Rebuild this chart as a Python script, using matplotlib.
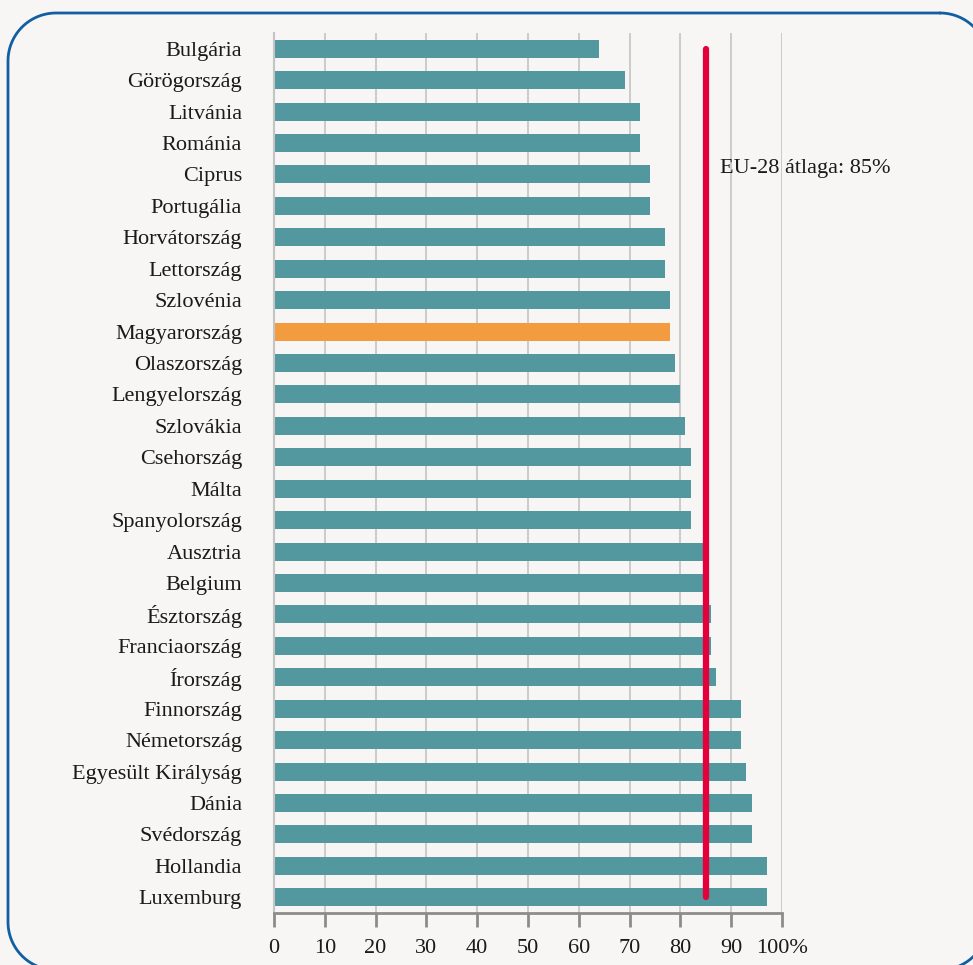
import matplotlib
matplotlib.use("Agg")
import matplotlib.pyplot as plt
import numpy as np

countries = ["Bulgária", "Görögország", "Litvánia", "Románia", "Ciprus", "Portugália",
             "Horvátország", "Lettország", "Szlovénia", "Magyarország", "Olaszország",
             "Lengyelország", "Szlovákia", "Csehország", "Málta", "Spanyolország",
             "Ausztria", "Belgium", "Észtország", "Franciaország", "Írország",
             "Finnország", "Németország", "Egyesült Királyság", "Dánia", "Svédország",
             "Hollandia", "Luxemburg"]
values = [64, 69, 72, 72, 74, 74, 77, 77, 78, 78, 79, 80, 81, 82, 82, 82,
          85, 85, 86, 86, 87, 92, 92, 93, 94, 94, 97, 97]
highlight = "Magyarország"
eu_avg = 85
eu_label = "EU-28 átlaga: 85%"
xticks = [0, 10, 20, 30, 40, 50, 60, 70, 80, 90, 100]
xticklabels = ["0", "10", "20", "30", "40", "50", "60", "70", "80", "90", "100%"]

bg = "#f7f6f4"
teal = "#53989f"
orange = "#f39c3f"
red = "#e4003a"
frame_col = "#115ea3"

plt.rcParams['font.family'] = ['Liberation Serif', 'DejaVu Serif']

W, H = 973, 965
fig = plt.figure(figsize=(W / 100, H / 100), dpi=100)
fig.patch.set_facecolor(bg)

# background axes in pixel units (origin top-left) for the rounded frame outline
bax = fig.add_axes([0, 0, 1, 1], zorder=-1)
bax.set_xlim(0, W)
bax.set_ylim(H, 0)
bax.axis("off")
fx0, fy0, fx1, fy1, r = 8, 13, 988, 970, 48
pts = []
for cx, cy, a0 in [(fx1 - r, fy0 + r, -90), (fx1 - r, fy1 - r, 0),
                   (fx0 + r, fy1 - r, 90), (fx0 + r, fy0 + r, 180)]:
    t = np.radians(np.linspace(a0, a0 + 90, 30))
    pts.append(np.column_stack([cx + r * np.cos(t), cy + r * np.sin(t)]))
pts = np.vstack(pts + [pts[0][:1]])
bax.plot(pts[:, 0], pts[:, 1], color=frame_col, linewidth=2, clip_on=False,
         solid_joinstyle="round", solid_capstyle="round")

ax = fig.add_axes([274 / W, 1 - 913 / H, (782 - 274) / W, (913 - 33) / H])
ax.set_facecolor(bg)

n = len(countries)
ypos = list(range(n))
colors = [orange if c == highlight else teal for c in countries]
ax.barh(ypos, values, height=0.57, color=colors, zorder=2)

ax.plot([eu_avg, eu_avg], [0, n - 1], color=red, linewidth=4.5, solid_capstyle="round", zorder=3)
ax.text(eu_avg + 2.8, 3.8, eu_label, fontsize=16, va="center", ha="left", color="#1a1a1a", zorder=4)

ax.set_xlim(0, 100)
ax.set_ylim(n - 0.5, -0.5)
ax.set_yticks(ypos)
ax.set_yticklabels(countries, fontsize=16, color="#1a1a1a")
ax.set_xticks(xticks)
ax.set_xticklabels(xticklabels, fontsize=16, color="#1a1a1a")
ax.tick_params(axis="y", length=0, pad=23)
ax.tick_params(axis="x", length=10, width=2, color="#8c8c8c", pad=9)
ax.xaxis.grid(True, color="#c4c4c4", linewidth=1.2, zorder=1)
ax.set_axisbelow(True)
for s in ["top", "right"]:
    ax.spines[s].set_visible(False)
ax.spines["left"].set_color("#c4c4c4")
ax.spines["left"].set_linewidth(1.5)
ax.spines["bottom"].set_color("#8c8c8c")
ax.spines["bottom"].set_linewidth(2)

fig.savefig("out.png", dpi=100, facecolor=bg)
